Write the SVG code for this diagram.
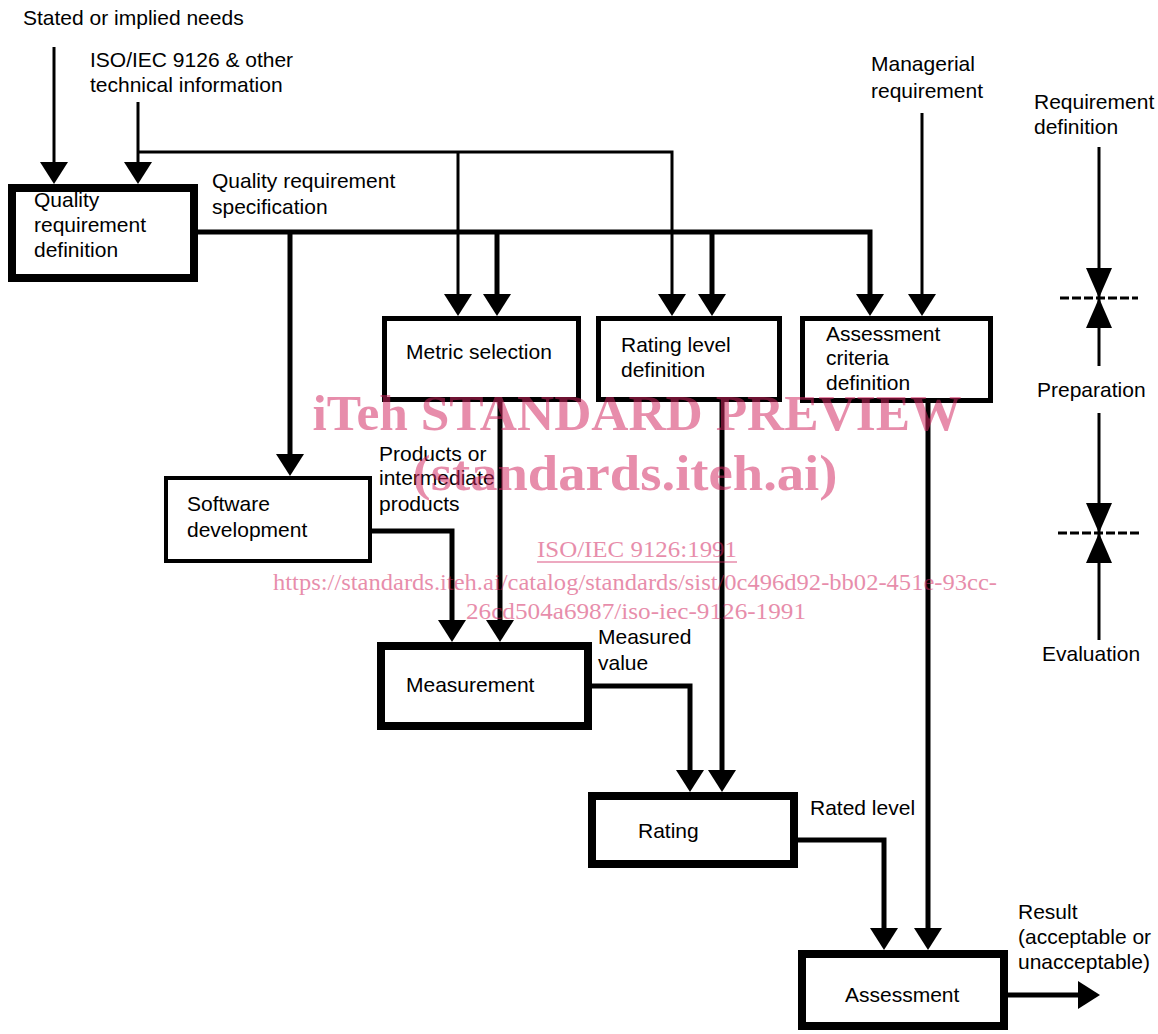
<svg xmlns="http://www.w3.org/2000/svg" xmlns:xlink="http://www.w3.org/1999/xlink" width="1158" height="1034" viewBox="0 0 1158 1034">
<style>
  text { font-family: "Liberation Sans", Arial, sans-serif; font-size: 21px; fill: #000; }
  .box { fill: #fff; stroke: #000; }
  .thick { stroke-width: 8; }
  .med { stroke-width: 5; }
  .thin { stroke-width: 4; }
  .ln { fill: none; stroke: #000; stroke-linejoin: miter; }
  .l3 { stroke-width: 3; }
  .l5 { stroke-width: 5; }
  .dash { fill: none; stroke: #000; stroke-width: 3; stroke-dasharray: 9 3; }
  text.wm { font-family: "Liberation Serif", "Times New Roman", serif; fill: #D32660; opacity: 0.52; }
  text.wmbig { font-size: 50px; font-weight: bold; }
  text.wmsmall { font-size: 24px; }
</style>
<defs>
  <path id="ah" d="M-14,-22 L14,-22 L0,0 Z" fill="#000"/>
  <path id="ahl" d="M-13,-30 L13,-30 L0,0 Z" fill="#000"/>
</defs>
<rect width="1158" height="1034" fill="#fff"/>

<g id="connectors">
  <path class="ln l3" d="M54,47 V166"/>
  <path class="ln l3" d="M138,102 V166"/>
  <path class="ln l3" d="M138,152 H672 V298"/>
  <path class="ln l3" d="M458,152 V298"/>
  <path class="ln l5" d="M198,232 H870 V298"/>
  <path class="ln l5" d="M290,232 V458"/>
  <path class="ln l5" d="M497,232 V298"/>
  <path class="ln l5" d="M712,232 V298"/>
  <path class="ln l3" d="M922,113 V298"/>
  <path class="ln l5" d="M500,402 V624"/>
  <path class="ln l5" d="M722,402 V774"/>
  <path class="ln l5" d="M928,402 V932"/>
  <path class="ln l5" d="M372,531 H452 V624"/>
  <path class="ln l5" d="M592,686 H690 V774"/>
  <path class="ln l5" d="M798,840 H884 V932"/>
  <path class="ln l5" d="M1008,995 H1082"/>
  <use xlink:href="#ah" x="54" y="184"/>
  <use xlink:href="#ah" x="138" y="184"/>
  <use xlink:href="#ah" x="458" y="316"/>
  <use xlink:href="#ah" x="497" y="316"/>
  <use xlink:href="#ah" x="672" y="316"/>
  <use xlink:href="#ah" x="712" y="316"/>
  <use xlink:href="#ah" x="870" y="316"/>
  <use xlink:href="#ah" x="922" y="316"/>
  <use xlink:href="#ah" x="290" y="476"/>
  <use xlink:href="#ah" x="452" y="642"/>
  <use xlink:href="#ah" x="500" y="642"/>
  <use xlink:href="#ah" x="690" y="792"/>
  <use xlink:href="#ah" x="722" y="792"/>
  <use xlink:href="#ah" x="884" y="950"/>
  <use xlink:href="#ah" x="928" y="950"/>
  <use xlink:href="#ah" transform="translate(1100,995) rotate(-90)"/>
</g>

<g id="inputs">
  <text x="23" y="25">Stated or  implied needs</text>
  <text x="90" y="67">ISO/IEC 9126 &amp; other</text>
  <text x="90" y="92">technical information</text>
  <text x="871" y="71">Managerial</text>
  <text x="871" y="98">requirement</text>
</g>

<g id="quality-requirement-definition">
  <rect class="box thick" x="12" y="188" width="182" height="90"/>
  <text x="34" y="207">Quality</text>
  <text x="34" y="232">requirement</text>
  <text x="34" y="257">definition</text>
</g>
<g id="label-spec">
  <text x="212" y="188">Quality requirement</text>
  <text x="212" y="214">specification</text>
</g>

<g id="metric-selection">
  <rect class="box med" x="384.5" y="318.5" width="194" height="81"/>
  <text x="406" y="359">Metric selection</text>
</g>
<g id="rating-level-definition">
  <rect class="box med" x="598.5" y="318.5" width="181" height="81"/>
  <text x="621" y="352">Rating level</text>
  <text x="621" y="377">definition</text>
</g>
<g id="assessment-criteria-definition">
  <rect class="box med" x="802.5" y="318.5" width="188" height="82"/>
  <text x="826" y="341">Assessment</text>
  <text x="826" y="365">criteria</text>
  <text x="826" y="390">definition</text>
</g>

<g id="software-development">
  <rect class="box thin" x="166" y="478" width="204" height="83"/>
  <text x="187" y="511">Software</text>
  <text x="187" y="537">development</text>
</g>
<g id="label-products">
  <text x="379" y="461">Products or</text>
  <text x="379" y="485">intermediate</text>
  <text x="379" y="511">products</text>
</g>

<g id="measurement">
  <rect class="box thick" x="381" y="646" width="207" height="80"/>
  <text x="406" y="692">Measurement</text>
</g>
<g id="label-measured">
  <text x="598" y="644">Measured</text>
  <text x="598" y="670">value</text>
</g>

<g id="rating">
  <rect class="box thick" x="592" y="796" width="202" height="68"/>
  <text x="638" y="838">Rating</text>
</g>
<g id="label-rated">
  <text x="810" y="815">Rated level</text>
</g>

<g id="assessment">
  <rect class="box thick" x="802" y="954" width="202" height="72"/>
  <text x="845" y="1002">Assessment</text>
</g>
<g id="label-result">
  <text x="1018" y="919">Result</text>
  <text x="1018" y="944">(acceptable or</text>
  <text x="1018" y="969">unacceptable)</text>
</g>

<g id="legend">
  <text x="1034" y="109">Requirement</text>
  <text x="1034" y="134">definition</text>
  <path class="ln l3" d="M1099,147 V366"/>
  <path class="dash" d="M1060,298 H1138"/>
  <use xlink:href="#ahl" x="1099" y="298"/>
  <use xlink:href="#ahl" transform="translate(1099,298) rotate(180)"/>
  <text x="1037" y="397">Preparation</text>
  <path class="ln l3" d="M1099,413 V640"/>
  <path class="dash" d="M1058,533 H1140"/>
  <use xlink:href="#ahl" x="1099" y="533"/>
  <use xlink:href="#ahl" transform="translate(1099,533) rotate(180)"/>
  <text x="1042" y="661">Evaluation</text>
</g>

<g id="watermark">
  <text class="wm wmbig" x="637" y="430" text-anchor="middle" textLength="649" lengthAdjust="spacingAndGlyphs">iTeh STANDARD PREVIEW</text>
  <text class="wm wmbig" x="625" y="490" text-anchor="middle" textLength="425" lengthAdjust="spacingAndGlyphs">(standards.iteh.ai)</text>
  <text class="wm wmsmall" x="637" y="557" text-anchor="middle" textLength="200" lengthAdjust="spacingAndGlyphs">ISO/IEC 9126:1991</text>
  <path d="M537,562 H737" stroke="#D32660" stroke-width="1.5" opacity="0.52"/>
  <text class="wm wmsmall" x="635" y="590" text-anchor="middle" textLength="724" lengthAdjust="spacingAndGlyphs">https://standards.iteh.ai/catalog/standards/sist/0c496d92-bb02-451e-93cc-</text>
  <text class="wm wmsmall" x="636" y="619" text-anchor="middle" textLength="340" lengthAdjust="spacingAndGlyphs">26cd504a6987/iso-iec-9126-1991</text>
</g>
</svg>
